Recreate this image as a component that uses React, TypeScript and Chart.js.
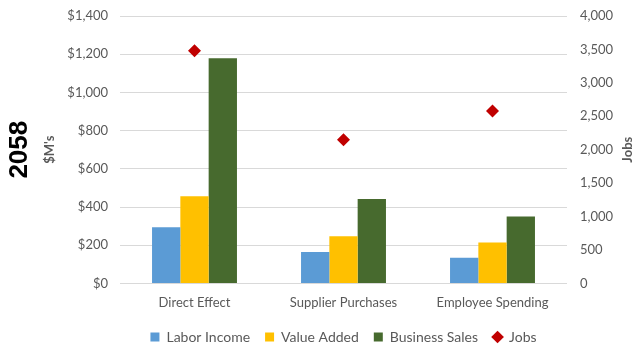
import React, { useEffect, useRef } from "react";
import { Chart, registerables } from "chart.js";

Chart.register(...registerables);

const categories = ["Direct Effect", "Supplier Purchases", "Employee Spending"];
const laborIncome = [294, 164, 134];
const valueAdded = [456, 247, 214];
const businessSales = [1179, 442, 350];
const jobs = [3480, 2150, 2580];
const yearLabel = "2058";
const rightTitle = "Jobs";

const FONT = "Lato, 'Open Sans', sans-serif";
const GRAY = "#595959";

const sideTitle = {
  id: "sideTitle",
  afterDraw(chart: any) {
    const { ctx, chartArea } = chart;
    const cy = (chartArea.top + chartArea.bottom) / 2;
    ctx.save();
    ctx.translate(19.5, cy);
    ctx.rotate(-Math.PI / 2);
    ctx.font = "bold 26px 'Liberation Sans', Arial, sans-serif";
    ctx.fillStyle = "#000";
    ctx.textAlign = "center";
    ctx.textBaseline = "middle";
    ctx.fillText(yearLabel, 0, 0);
    ctx.restore();
    ctx.save();
    ctx.translate(628, cy);
    ctx.rotate(-Math.PI / 2);
    ctx.font = `bold 13px ${FONT}`;
    ctx.fillStyle = GRAY;
    ctx.textAlign = "center";
    ctx.textBaseline = "middle";
    ctx.fillText(rightTitle, 0, 0);
    ctx.restore();
  },
};

export default function App() {
  const ref = useRef<HTMLCanvasElement>(null);
  useEffect(() => {
    if (!ref.current) return;
    const chart = new Chart(ref.current, {
      type: "bar",
      data: {
        labels: categories,
        datasets: [
          { label: "Labor Income", data: laborIncome, backgroundColor: "#5B9BD5", pointStyle: "rect", yAxisID: "y" },
          { label: "Value Added", data: valueAdded, backgroundColor: "#FFC000", pointStyle: "rect", yAxisID: "y" },
          { label: "Business Sales", data: businessSales, backgroundColor: "#476A2E", pointStyle: "rect", yAxisID: "y" },
          {
            type: "line",
            label: "Jobs",
            data: jobs,
            yAxisID: "y1",
            showLine: false,
            pointStyle: "rectRot",
            pointRadius: 6.5,
            pointHoverRadius: 6.5,
            backgroundColor: "#C00000",
            borderColor: "#C00000",
            borderWidth: 0,
          } as any,
        ],
      },
      options: {
        animation: false,
        responsive: false,
        layout: { padding: { left: 36, top: 16, right: 0, bottom: -7 } },
        datasets: { bar: { categoryPercentage: 0.57, barPercentage: 1.0 } } as any,
        plugins: {
          tooltip: { enabled: false },
          legend: {
            position: "bottom",
            fullSize: false,
            labels: {
              usePointStyle: true,
              boxWidth: 9,
              boxHeight: 9,
              padding: 15,
              color: GRAY,
              font: { family: FONT, size: 14 },
            },
          },
        },
        scales: {
          x: {
            grid: { display: false },
            border: { display: false },
            ticks: { color: GRAY, font: { family: FONT, size: 13 }, padding: 4 },
          },
          y: {
            position: "left",
            min: 0,
            max: 1400,
            ticks: {
              stepSize: 200,
              color: GRAY,
              font: { family: FONT, size: 13 },
              padding: 12,
              callback: (v: any) => "$" + Number(v).toLocaleString("en-US"),
            },
            grid: { color: "#D9D9D9", drawTicks: false },
            border: { display: false },
            title: { display: true, text: "$M's", color: GRAY, font: { family: FONT, size: 13, weight: "bold" }, padding: { top: 6, bottom: 0 } },
            afterFit: (s: any) => { s.width = 84; s.paddingTop = 0; },
          },
          y1: {
            position: "right",
            min: 0,
            max: 4000,
            ticks: {
              stepSize: 500,
              color: GRAY,
              font: { family: FONT, size: 13 },
              padding: 13,
              callback: (v: any) => Number(v).toLocaleString("en-US"),
            },
            grid: { display: false, drawTicks: false },
            border: { display: false },
            afterFit: (s: any) => { s.width = 71; s.paddingTop = 0; },
          },
        },
      },
      plugins: [sideTitle],
    });
    return () => chart.destroy();
  }, []);
  return (
    <div style={{ position: "absolute", left: 0, top: 0, width: 638, height: 347, background: "#fff" }}>
      <canvas ref={ref} width={638} height={347} />
    </div>
  );
}
